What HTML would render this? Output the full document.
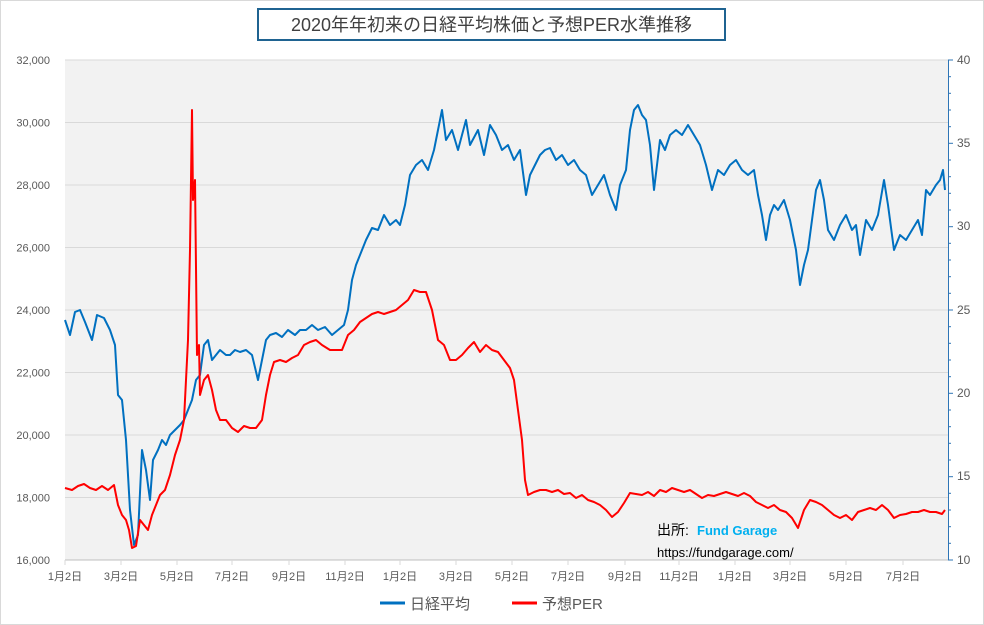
<!DOCTYPE html><html><head><meta charset="utf-8"><style>
body{margin:0;background:#fff;}
svg{display:block;font-family:"Liberation Sans","Noto Sans CJK JP",sans-serif;}
</style></head><body>
<svg width="984" height="625" viewBox="0 0 984 625">
<rect x="0.5" y="0.5" width="983" height="624" fill="#fff" stroke="#d9d9d9"/>
<rect x="65" y="60" width="883" height="500" fill="#f2f2f2"/>
<g stroke="#d9d9d9" stroke-width="1">
<line x1="65" x2="948" y1="60" y2="60"/><line x1="65" x2="948" y1="122.5" y2="122.5"/><line x1="65" x2="948" y1="185" y2="185"/><line x1="65" x2="948" y1="247.5" y2="247.5"/><line x1="65" x2="948" y1="310" y2="310"/><line x1="65" x2="948" y1="372.5" y2="372.5"/><line x1="65" x2="948" y1="435" y2="435"/><line x1="65" x2="948" y1="497.5" y2="497.5"/>
</g>
<line x1="65" x2="948" y1="560" y2="560" stroke="#bfbfbf"/>
<line x1="948.5" x2="948.5" y1="60" y2="560" stroke="#2e75b6"/>
<g stroke="#2e75b6">
<line x1="948" x2="953" y1="60" y2="60"/><line x1="948" x2="953" y1="143.3" y2="143.3"/><line x1="948" x2="953" y1="226.7" y2="226.7"/><line x1="948" x2="953" y1="310" y2="310"/><line x1="948" x2="953" y1="393.3" y2="393.3"/><line x1="948" x2="953" y1="476.7" y2="476.7"/><line x1="948" x2="953" y1="560" y2="560"/>
<line x1="948" x2="951" y1="76.7" y2="76.7"/><line x1="948" x2="951" y1="93.3" y2="93.3"/><line x1="948" x2="951" y1="110" y2="110"/><line x1="948" x2="951" y1="126.7" y2="126.7"/><line x1="948" x2="951" y1="160" y2="160"/><line x1="948" x2="951" y1="176.7" y2="176.7"/><line x1="948" x2="951" y1="193.3" y2="193.3"/><line x1="948" x2="951" y1="210" y2="210"/><line x1="948" x2="951" y1="243.3" y2="243.3"/><line x1="948" x2="951" y1="260" y2="260"/><line x1="948" x2="951" y1="276.7" y2="276.7"/><line x1="948" x2="951" y1="293.3" y2="293.3"/><line x1="948" x2="951" y1="326.7" y2="326.7"/><line x1="948" x2="951" y1="343.3" y2="343.3"/><line x1="948" x2="951" y1="360" y2="360"/><line x1="948" x2="951" y1="376.7" y2="376.7"/><line x1="948" x2="951" y1="410" y2="410"/><line x1="948" x2="951" y1="426.7" y2="426.7"/><line x1="948" x2="951" y1="443.3" y2="443.3"/><line x1="948" x2="951" y1="460" y2="460"/><line x1="948" x2="951" y1="493.3" y2="493.3"/><line x1="948" x2="951" y1="510" y2="510"/><line x1="948" x2="951" y1="526.7" y2="526.7"/><line x1="948" x2="951" y1="543.3" y2="543.3"/>
</g>
<g stroke="#d9d9d9">
<line x1="65" x2="65" y1="560" y2="565"/><line x1="121" x2="121" y1="560" y2="565"/><line x1="177" x2="177" y1="560" y2="565"/><line x1="232" x2="232" y1="560" y2="565"/><line x1="289" x2="289" y1="560" y2="565"/><line x1="345" x2="345" y1="560" y2="565"/><line x1="400" x2="400" y1="560" y2="565"/><line x1="456" x2="456" y1="560" y2="565"/><line x1="512" x2="512" y1="560" y2="565"/><line x1="568" x2="568" y1="560" y2="565"/><line x1="625" x2="625" y1="560" y2="565"/><line x1="679" x2="679" y1="560" y2="565"/><line x1="735" x2="735" y1="560" y2="565"/><line x1="790" x2="790" y1="560" y2="565"/><line x1="846" x2="846" y1="560" y2="565"/><line x1="903" x2="903" y1="560" y2="565"/>
</g>
<g font-size="11" fill="#595959" text-anchor="end">
<text x="50" y="64">32,000</text><text x="50" y="126.5">30,000</text><text x="50" y="189">28,000</text><text x="50" y="251.5">26,000</text><text x="50" y="314">24,000</text><text x="50" y="376.5">22,000</text><text x="50" y="439">20,000</text><text x="50" y="501.5">18,000</text><text x="50" y="564">16,000</text>
</g>
<g font-size="12" fill="#595959">
<text x="957" y="64">40</text><text x="957" y="147">35</text><text x="957" y="230">30</text><text x="957" y="314">25</text><text x="957" y="397">20</text><text x="957" y="480">15</text><text x="957" y="564">10</text>
</g>
<g font-size="11" fill="#595959" text-anchor="middle">
<text x="65" y="580">1月2日</text><text x="121" y="580">3月2日</text><text x="177" y="580">5月2日</text><text x="232" y="580">7月2日</text><text x="289" y="580">9月2日</text><text x="345" y="580">11月2日</text><text x="400" y="580">1月2日</text><text x="456" y="580">3月2日</text><text x="512" y="580">5月2日</text><text x="568" y="580">7月2日</text><text x="625" y="580">9月2日</text><text x="679" y="580">11月2日</text><text x="735" y="580">1月2日</text><text x="790" y="580">3月2日</text><text x="846" y="580">5月2日</text><text x="903" y="580">7月2日</text>
</g>
<polyline fill="none" stroke="#0070c0" stroke-width="2" stroke-linejoin="round" points="65,320 70,335 75,312 80,310 85,322 92,340 97,315 104,318 110,330 115,345 118,395 122,400 126,440 130,510 134,545 138,535 142,450 146,470 150,500 153,460 158,450 162,440 166,445 170,435 175,430 180,425 184,420 188,410 192,400 196,380 200,375 204,345 208,340 212,360 216,355 220,350 226,355 230,355 235,350 240,352 246,350 252,355 258,380 262,360 266,340 270,335 276,333 282,337 288,330 295,335 300,330 306,330 312,325 318,330 325,327 332,335 338,330 344,325 348,310 352,280 356,265 360,255 366,240 372,228 378,230 384,215 390,225 396,220 400,225 405,205 410,175 416,165 422,160 428,170 434,150 438,130 442,110 446,140 452,130 458,150 462,135 466,120 470,145 478,130 484,155 490,125 496,135 502,150 508,145 514,160 520,150 526,195 530,175 535,165 540,155 545,150 550,148 556,160 562,155 568,165 574,160 580,170 586,175 592,195 598,185 604,175 610,195 616,210 620,185 626,170 630,130 634,110 638,105 642,115 646,120 650,145 654,190 660,140 665,150 670,135 676,130 682,135 688,125 694,135 700,145 706,165 712,190 718,170 724,175 730,165 736,160 742,170 748,175 754,170 758,195 762,215 766,240 770,215 774,205 778,210 784,200 790,220 796,250 800,285 804,265 808,250 812,220 816,190 820,180 824,200 828,230 834,240 840,225 846,215 852,230 856,225 860,255 866,220 872,230 878,215 884,180 888,205 894,250 900,235 906,240 912,230 918,220 922,235 926,190 930,195 936,185 940,180 943,170 945,190"/>
<polyline fill="none" stroke="#ff0000" stroke-width="2" stroke-linejoin="round" points="65,488 72,490 78,486 84,484 90,488 96,490 102,486 108,490 114,485 118,505 122,515 126,520 129,530 132,548 136,546 140,520 144,525 148,530 152,515 156,505 160,495 165,490 170,475 175,455 180,440 184,420 188,340 190,250 192,110 193,200 195,180 197,355 199,345 200,395 204,380 208,375 212,390 216,410 220,420 226,420 232,428 238,432 244,426 250,428 256,428 262,420 266,395 270,375 274,362 280,360 286,362 292,358 298,355 304,345 310,342 316,340 322,345 330,350 336,350 342,350 348,335 354,330 360,322 366,318 372,314 378,312 384,314 390,312 396,310 402,305 408,300 414,290 420,292 426,292 432,310 438,340 444,345 450,360 456,360 462,355 468,348 474,342 480,352 486,345 492,350 498,352 504,360 510,368 514,380 518,410 522,440 525,480 528,495 534,492 540,490 546,490 552,492 558,490 564,494 570,493 576,498 582,495 588,500 594,502 600,505 606,510 612,517 618,512 624,503 630,493 636,494 642,495 648,492 654,496 660,490 666,492 672,488 678,490 684,492 690,490 696,494 702,498 708,495 714,496 720,494 726,492 732,494 738,496 744,493 750,496 756,502 762,505 768,508 774,505 780,510 786,512 792,518 798,528 804,510 810,500 816,502 822,505 828,510 834,515 840,518 846,515 852,520 858,512 864,510 870,508 876,510 882,505 888,510 894,518 900,515 906,514 912,512 918,512 924,510 930,512 936,512 942,514 945,510"/>
<text x="657" y="535" font-size="14" fill="#000">出所:</text>
<text x="697" y="535" font-size="13" font-weight="bold" fill="#00b0f0">Fund Garage</text>
<text x="657" y="557" font-size="13" fill="#000">https://fundgarage.com/</text>
<rect x="258" y="9" width="467" height="31" fill="#fff" stroke="#1f6391" stroke-width="2"/>
<text x="491.5" y="31" font-size="18" fill="#404040" text-anchor="middle">2020年年初来の日経平均株価と予想PER水準推移</text>
<line x1="380" x2="405" y1="603" y2="603" stroke="#0070c0" stroke-width="3"/>
<text x="410" y="609" font-size="15" fill="#595959">日経平均</text>
<line x1="512" x2="537" y1="603" y2="603" stroke="#ff0000" stroke-width="3"/>
<text x="542" y="609" font-size="15" fill="#595959">予想PER</text>
</svg>
</body></html>
